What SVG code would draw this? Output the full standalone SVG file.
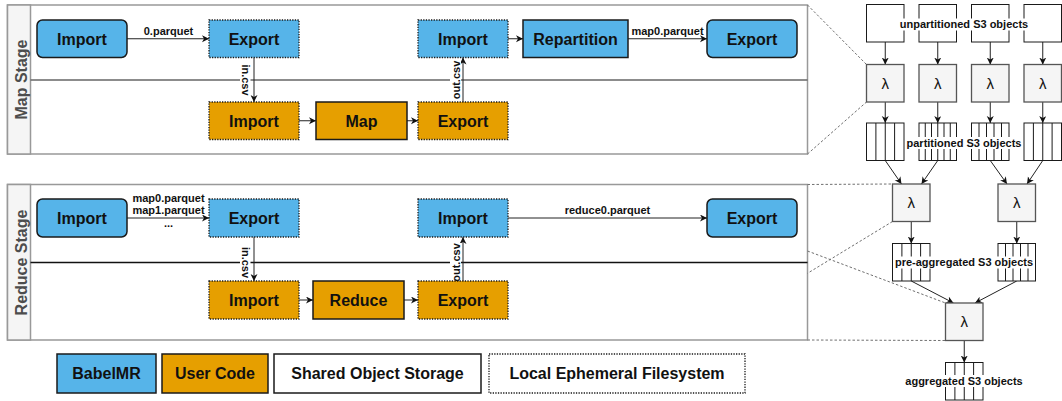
<svg xmlns="http://www.w3.org/2000/svg" width="1062" height="401" viewBox="0 0 1062 401">
  <style>
    text { font-family: "Liberation Sans", Arial, Helvetica, sans-serif; font-weight: bold; fill: #111; }
    .node { font-size: 16px; text-anchor: middle; }
    .lbl { font-size: 11px; text-anchor: middle; }
    .stage-title { font-size: 16px; text-anchor: middle; fill: #4d4d4d; }
    .blue { fill: #56B4E9; }
    .orange { fill: #E69F00; }
    .solid { stroke: #1a1a1a; stroke-width: 1.5; }
    .dotted { stroke: #1a1a1a; stroke-width: 1.3; stroke-dasharray: 1.3 1.3; }
    .stage { fill: #ffffff; stroke: #999999; stroke-width: 1.5; }
    .stage-head { fill: #f5f5f5; stroke: #999999; stroke-width: 1.5; }
    .edge { fill: none; stroke: #222; stroke-width: 1; marker-end: url(#arrow); }
    .zoomline { fill: none; stroke: #707070; stroke-width: 1; stroke-dasharray: 2.5 2; }
    .obj { fill: #ffffff; stroke: #1a1a1a; stroke-width: 1; }
    .part { stroke: #1a1a1a; stroke-width: 1; }
    .lambda { fill: #f5f5f5; stroke: #555555; stroke-width: 1.3; }
    .lam { font-size: 15px; text-anchor: middle; font-weight: normal; }
    .bg { fill: #ffffff; }
  </style>
  <defs>
    <marker id="arrow" markerUnits="userSpaceOnUse" markerWidth="8" markerHeight="8" refX="7" refY="3.5" orient="auto">
      <path d="M0,0 L7,3.5 L0,7 L2,3.5 z" fill="#111"/>
    </marker>
  </defs>

  <!-- Map stage swimlane -->
  <g id="map-stage">
    <rect class="stage" x="7.5" y="5" width="800" height="149"/>
    <rect class="stage-head" x="7.5" y="5" width="23" height="149"/>
    <line x1="30.5" y1="80" x2="807.5" y2="80" stroke="#666" stroke-width="1.5"/>
    <text class="stage-title" transform="translate(27,79.5) rotate(-90)">Map Stage</text>
  </g>

  <!-- Reduce stage swimlane -->
  <g id="reduce-stage">
    <rect class="stage" x="7.5" y="184.5" width="800" height="155.5"/>
    <rect class="stage-head" x="7.5" y="184.5" width="23" height="155.5"/>
    <line x1="30.5" y1="262.5" x2="807.5" y2="262.5" stroke="#111" stroke-width="1.3"/>
    <text class="stage-title" transform="translate(27,262.5) rotate(-90)">Reduce Stage</text>
  </g>

  <!-- Connectors -->
  <g id="connectors">
    <!-- map stage -->
    <line class="edge" x1="127" y1="38.75" x2="209" y2="38.75"/>
    <line class="edge" x1="254" y1="57.5" x2="254" y2="102"/>
    <line class="edge" x1="299" y1="120.75" x2="316" y2="120.75"/>
    <line class="edge" x1="407" y1="120.75" x2="418" y2="120.75"/>
    <line class="edge" x1="463" y1="102" x2="463" y2="57.5"/>
    <line class="edge" x1="508" y1="38.75" x2="523" y2="38.75"/>
    <line class="edge" x1="628" y1="38.75" x2="707" y2="38.75"/>
    <!-- reduce stage -->
    <line class="edge" x1="127" y1="218" x2="209" y2="218"/>
    <line class="edge" x1="254" y1="237" x2="254" y2="281"/>
    <line class="edge" x1="299" y1="300" x2="313" y2="300"/>
    <line class="edge" x1="404" y1="300" x2="418" y2="300"/>
    <line class="edge" x1="463" y1="281" x2="463" y2="237"/>
    <line class="edge" x1="508" y1="218" x2="707" y2="218"/>

    <!-- edge labels -->
    <text class="lbl" x="168.5" y="34.7">0.parquet</text>
    <text class="lbl" x="667.5" y="34.7">map0.parquet</text>
    <rect class="bg" x="240" y="64" width="10.5" height="32"/>
    <text class="lbl" transform="translate(242,80) rotate(90)">in.csv</text>
    <rect class="bg" x="450" y="61" width="11" height="38"/>
    <text class="lbl" transform="translate(460,80) rotate(-90)">out.csv</text>

    <text class="lbl" x="168.5" y="201.5">map0.parquet</text>
    <text class="lbl" x="168.5" y="214">map1.parquet</text>
    <text class="lbl" x="168.5" y="227">...</text>
    <text class="lbl" x="607.5" y="213.5">reduce0.parquet</text>
    <rect class="bg" x="240" y="247" width="10.5" height="32"/>
    <text class="lbl" transform="translate(242,262.5) rotate(90)">in.csv</text>
    <rect class="bg" x="450" y="243" width="11" height="38"/>
    <text class="lbl" transform="translate(460,262.5) rotate(-90)">out.csv</text>

    <!-- zoom guides from the swimlanes to the object flow -->
    <line class="zoomline" x1="807.5" y1="5" x2="866.5" y2="64.5"/>
    <line class="zoomline" x1="807.5" y1="154" x2="866.5" y2="102"/>
    <line class="zoomline" x1="807.5" y1="184.5" x2="892.5" y2="184"/>
    <line class="zoomline" x1="892.5" y1="221.5" x2="807.5" y2="273.3"/>
    <line class="zoomline" x1="807.5" y1="251" x2="945.5" y2="303"/>
    <line class="zoomline" x1="807.5" y1="340" x2="945.5" y2="340.5"/>

    <!-- object flow -->
    <line class="edge" x1="885.25" y1="42" x2="885.25" y2="64.5"/>
    <line class="edge" x1="937.75" y1="42" x2="937.75" y2="64.5"/>
    <line class="edge" x1="990.25" y1="42" x2="990.25" y2="64.5"/>
    <line class="edge" x1="1042.75" y1="42" x2="1042.75" y2="64.5"/>
    <line class="edge" x1="885.25" y1="102" x2="885.25" y2="123"/>
    <line class="edge" x1="937.75" y1="102" x2="937.75" y2="123"/>
    <line class="edge" x1="990.25" y1="102" x2="990.25" y2="123"/>
    <line class="edge" x1="1042.75" y1="102" x2="1042.75" y2="123"/>
    <line class="edge" x1="885.25" y1="160.5" x2="901.5" y2="184"/>
    <line class="edge" x1="937.75" y1="160.5" x2="921.5" y2="184"/>
    <line class="edge" x1="990.25" y1="160.5" x2="1007" y2="184"/>
    <line class="edge" x1="1042.75" y1="160.5" x2="1027" y2="184"/>
    <line class="edge" x1="911.25" y1="221.5" x2="911.25" y2="243.5"/>
    <line class="edge" x1="1016.75" y1="221.5" x2="1016.75" y2="243.5"/>
    <line class="edge" x1="911.25" y1="281" x2="953.5" y2="303"/>
    <line class="edge" x1="1016.75" y1="281" x2="975" y2="303"/>
    <line class="edge" x1="964.25" y1="340.5" x2="964.25" y2="362.5"/>
  </g>

  <!-- Map stage nodes -->
  <g id="map-import"><rect class="blue solid" x="37" y="20" width="90" height="37.5" rx="5.5"/><text class="node" x="82" y="44.5">Import</text></g>
  <g id="map-export-local"><rect class="blue dotted" x="209" y="20" width="90" height="37.5"/><text class="node" x="254" y="44.5">Export</text></g>
  <g id="map-user-import"><rect class="orange dotted" x="209" y="102" width="90" height="37.5"/><text class="node" x="254" y="126.5">Import</text></g>
  <g id="map-user-map"><rect class="orange solid" x="316" y="102" width="91" height="37.5"/><text class="node" x="361.5" y="126.5">Map</text></g>
  <g id="map-user-export"><rect class="orange dotted" x="418" y="102" width="90" height="37.5"/><text class="node" x="463" y="126.5">Export</text></g>
  <g id="map-import-local"><rect class="blue dotted" x="418" y="20" width="90" height="37.5"/><text class="node" x="463" y="44.5">Import</text></g>
  <g id="map-repartition"><rect class="blue solid" x="523" y="20" width="105" height="37.5"/><text class="node" x="575.5" y="44.5">Repartition</text></g>
  <g id="map-export"><rect class="blue solid" x="707" y="20" width="90" height="37.5" rx="5.5"/><text class="node" x="752" y="44.5">Export</text></g>

  <!-- Reduce stage nodes -->
  <g id="reduce-import"><rect class="blue solid" x="37" y="199" width="90" height="38" rx="5.5"/><text class="node" x="82" y="223.7">Import</text></g>
  <g id="reduce-export-local"><rect class="blue dotted" x="209" y="199" width="90" height="38"/><text class="node" x="254" y="223.7">Export</text></g>
  <g id="reduce-user-import"><rect class="orange dotted" x="209" y="281" width="90" height="38"/><text class="node" x="254" y="305.7">Import</text></g>
  <g id="reduce-user-reduce"><rect class="orange solid" x="313" y="281" width="91" height="38"/><text class="node" x="358.5" y="305.7">Reduce</text></g>
  <g id="reduce-user-export"><rect class="orange dotted" x="418" y="281" width="90" height="38"/><text class="node" x="463" y="305.7">Export</text></g>
  <g id="reduce-import-local"><rect class="blue dotted" x="418" y="199" width="90" height="38"/><text class="node" x="463" y="223.7">Import</text></g>
  <g id="reduce-export"><rect class="blue solid" x="707" y="199" width="90" height="38" rx="5.5"/><text class="node" x="752" y="223.7">Export</text></g>

  <!-- Legend -->
  <g id="legend-babelmr"><rect class="blue solid" x="57" y="354" width="99" height="39"/><text class="node" x="106.5" y="379.2">BabelMR</text></g>
  <g id="legend-user-code"><rect class="orange solid" x="162" y="354" width="106" height="39"/><text class="node" x="215" y="379.2">User Code</text></g>
  <g id="legend-shared-storage"><rect fill="#fff" class="solid" x="274" y="354" width="207" height="39"/><text class="node" x="377.5" y="379.2">Shared Object Storage</text></g>
  <g id="legend-local-fs"><rect fill="#fff" class="dotted" x="489" y="354" width="256" height="39"/><text class="node" x="617" y="379.2">Local Ephemeral Filesystem</text></g>

  <!-- Unpartitioned objects -->
  <g id="unpartitioned-objects">
    <rect class="obj" x="866.5" y="4.5" width="37.5" height="37.5"/>
    <rect class="obj" x="919" y="4.5" width="37.5" height="37.5"/>
    <rect class="obj" x="971.5" y="4.5" width="37.5" height="37.5"/>
    <rect class="obj" x="1024" y="4.5" width="37.5" height="37.5"/>
    <rect class="bg" x="898.5" y="18.5" width="131" height="12"/>
    <text class="lbl" x="964" y="28.4">unpartitioned S3 objects</text>
  </g>

  <!-- Map lambdas -->
  <g id="map-lambdas">
    <rect class="lambda" x="866.5" y="64.5" width="37.5" height="37.5"/>
    <rect class="lambda" x="919" y="64.5" width="37.5" height="37.5"/>
    <rect class="lambda" x="971.5" y="64.5" width="37.5" height="37.5"/>
    <rect class="lambda" x="1024" y="64.5" width="37.5" height="37.5"/>
    <text class="lam" x="885.25" y="88.5">λ</text>
    <text class="lam" x="937.75" y="88.5">λ</text>
    <text class="lam" x="990.25" y="88.5">λ</text>
    <text class="lam" x="1042.75" y="88.5">λ</text>
  </g>

  <!-- Partitioned objects -->
  <g id="partitioned-objects">
    <rect class="obj" x="866.5" y="123" width="37.5" height="37.5"/>
    <path class="part" d="M875.9,123V160.5M885.25,123V160.5M894.6,123V160.5"/>
    <rect class="obj" x="919" y="123" width="37.5" height="37.5"/>
    <path class="part" d="M925.25,123V160.5M931.5,123V160.5M937.75,123V160.5M944,123V160.5M950.25,123V160.5"/>
    <rect class="obj" x="971.5" y="123" width="37.5" height="37.5"/>
    <path class="part" d="M979,123V160.5M986.5,123V160.5M994,123V160.5M1001.5,123V160.5"/>
    <rect class="obj" x="1024" y="123" width="37.5" height="37.5"/>
    <path class="part" d="M1033.4,123V160.5M1042.75,123V160.5M1052.1,123V160.5"/>
    <rect class="bg" x="906" y="137" width="116" height="12"/>
    <text class="lbl" x="964" y="146.9">partitioned S3 objects</text>
  </g>

  <!-- Reduce lambdas -->
  <g id="reduce-lambdas">
    <rect class="lambda" x="892.5" y="184" width="37.5" height="37.5"/>
    <rect class="lambda" x="998" y="184" width="37.5" height="37.5"/>
    <text class="lam" x="911.25" y="208">λ</text>
    <text class="lam" x="1016.75" y="208">λ</text>
  </g>

  <!-- Pre-aggregated objects -->
  <g id="pre-aggregated-objects">
    <rect class="obj" x="892.5" y="243.5" width="37.5" height="37.5"/>
    <path class="part" d="M901.9,243.5V281M911.25,243.5V281M920.6,243.5V281"/>
    <rect class="obj" x="998" y="243.5" width="37.5" height="37.5"/>
    <path class="part" d="M1005.5,243.5V281M1013,243.5V281M1020.5,243.5V281M1028,243.5V281"/>
    <rect class="bg" x="895" y="256.5" width="138" height="12"/>
    <text class="lbl" x="964" y="266.4">pre-aggregated S3 objects</text>
  </g>

  <!-- Final lambda -->
  <g id="final-lambda">
    <rect class="lambda" x="945.5" y="303" width="37.5" height="37.5"/>
    <text class="lam" x="964.25" y="327">λ</text>
  </g>

  <!-- Aggregated objects -->
  <g id="aggregated-objects">
    <rect class="obj" x="945.5" y="362.5" width="37.5" height="37.5"/>
    <path class="part" d="M954.9,362.5V400M964.25,362.5V400M973.6,362.5V400"/>
    <rect class="bg" x="905" y="375" width="118" height="12"/>
    <text class="lbl" x="964" y="384.9">aggregated S3 objects</text>
  </g>
</svg>
